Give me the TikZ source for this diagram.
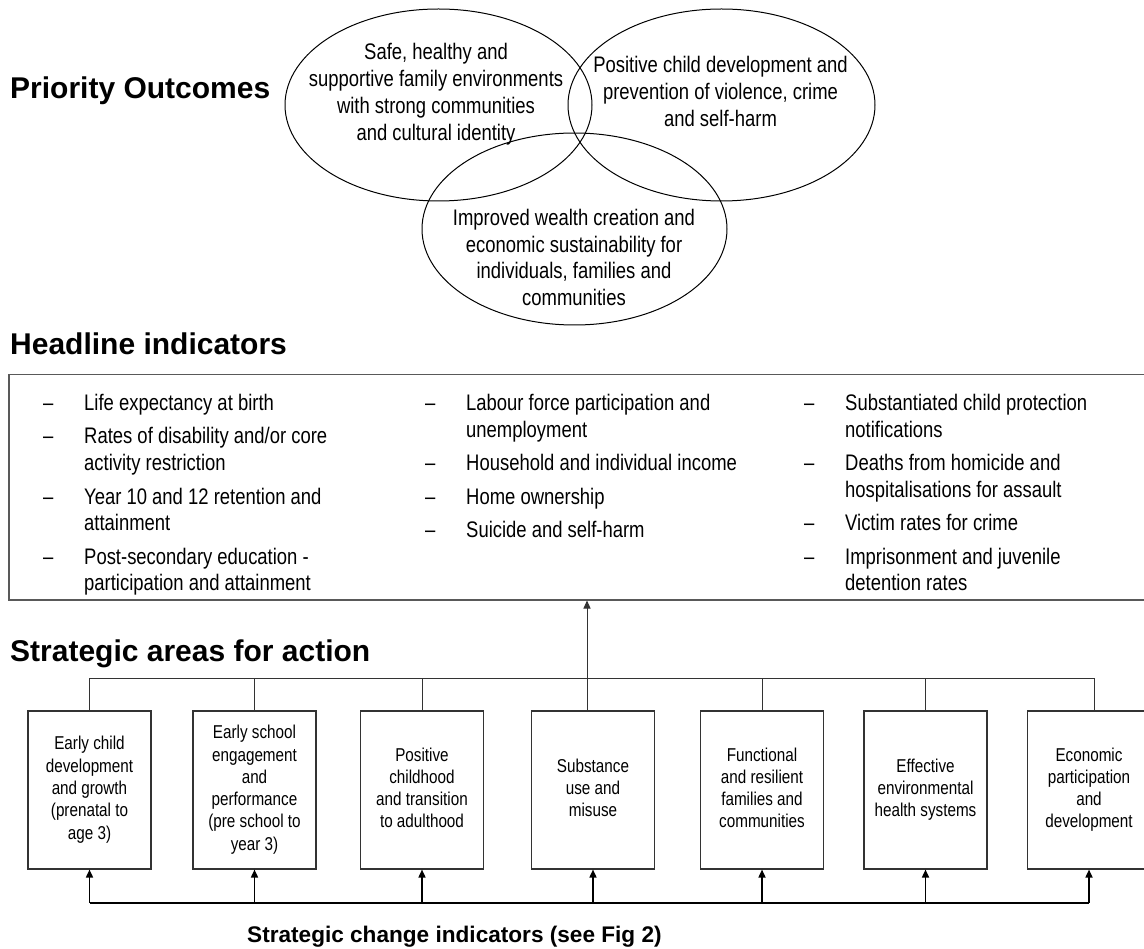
\documentclass[tikz,border=0pt]{standalone}
\usepackage{fontspec}
\setmainfont{Liberation Sans}
\newfontfamily\narrowfont{Liberation Sans}[FakeStretch=0.82]
\usetikzlibrary{shapes.geometric,arrows.meta}
\newcommand\dashcell{\makebox[41pt][l]{–}}
\begin{document}
\begin{tikzpicture}[x=1pt,y=-1pt,
  title/.style={inner sep=0pt, anchor=base west, font=\bfseries\fontsize{30}{36}\selectfont},
  subtitle/.style={inner sep=0pt, anchor=base west, font=\bfseries\fontsize{22.6}{27}\selectfont},
  outcome/.style={draw, ellipse, line width=1pt, inner sep=0pt, minimum width=307pt, minimum height=192pt},
  otext/.style={inner sep=0pt, anchor=base, font=\narrowfont\fontsize{22.5}{26.7}\selectfont},
  item/.style={inner sep=0pt, anchor=base west, font=\narrowfont\fontsize{22.5}{27}\selectfont},
  area/.style={draw=black!80, line width=1.1pt, minimum width=123pt, minimum height=158pt, inner sep=0pt, font=\narrowfont\fontsize{18.6}{22.3}\selectfont},
  hbox/.style={draw=black!65, line width=1.5pt, anchor=north west, minimum width=1142pt, minimum height=225pt, inner sep=0pt},
  bus/.style={draw=black!80, line width=1pt},
  feed/.style={draw=black, line width=1.6pt},
  arr/.style={-{Triangle[length=8pt,width=7pt]}},
]
\path[use as bounding box, fill=white] (0,0) rectangle (1144,949);
\clip (0,0) rectangle (1144,949);

% titles
\node[title] (tpo) at (10,99) {Priority Outcomes};
\node[title] (thi) at (10,355) {Headline indicators};
\node[title] (tsa) at (10,661) {Strategic areas for action};
\node[subtitle] (tsc) at (247,942) {Strategic change indicators (see Fig 2)};

% priority outcomes
\node[outcome] (e1) at (438.5,105) {};
\node[outcome] (e2) at (721.5,105) {};
\node[outcome, minimum width=305pt] (e3) at (574.5,229) {};
\node[otext] (o1) at (436,60) {\begin{tabular}[t]{@{}c@{}}Safe, healthy and\\supportive family environments\\with strong communities\\and cultural identity\end{tabular}};
\node[otext] (o2) at (720.5,73) {\begin{tabular}[t]{@{}c@{}}Positive child development and\\prevention of violence, crime\\and self-harm\end{tabular}};
\node[otext] (o3) at (574,225.5) {\begin{tabular}[t]{@{}c@{}}Improved wealth creation and\\economic sustainability for\\individuals, families and\\communities\end{tabular}};

% headline indicators
\node[hbox] (hb) at (8,374) {};
\node[item] (h11) at (43,411) {\begin{tabular}[t]{@{}l@{}l@{}}\dashcell&Life expectancy at birth\end{tabular}};
\node[item] (h12) at (43,444) {\begin{tabular}[t]{@{}l@{}l@{}}\dashcell&Rates of disability and/or core\\&activity restriction\end{tabular}};
\node[item] (h13) at (43,504) {\begin{tabular}[t]{@{}l@{}l@{}}\dashcell&Year 10 and 12 retention and\\&attainment\end{tabular}};
\node[item] (h14) at (43,564) {\begin{tabular}[t]{@{}l@{}l@{}}\dashcell&Post-secondary education -\\&participation and attainment\end{tabular}};
\node[item] (h21) at (425,411) {\begin{tabular}[t]{@{}l@{}l@{}}\dashcell&Labour force participation and\\&unemployment\end{tabular}};
\node[item] (h22) at (425,471) {\begin{tabular}[t]{@{}l@{}l@{}}\dashcell&Household and individual income\end{tabular}};
\node[item] (h23) at (425,504) {\begin{tabular}[t]{@{}l@{}l@{}}\dashcell&Home ownership\end{tabular}};
\node[item] (h24) at (425,537) {\begin{tabular}[t]{@{}l@{}l@{}}\dashcell&Suicide and self-harm\end{tabular}};
\node[item] (h31) at (804,411) {\begin{tabular}[t]{@{}l@{}l@{}}\dashcell&Substantiated child protection\\&notifications\end{tabular}};
\node[item] (h32) at (804,471) {\begin{tabular}[t]{@{}l@{}l@{}}\dashcell&Deaths from homicide and\\&hospitalisations for assault\end{tabular}};
\node[item] (h33) at (804,531) {\begin{tabular}[t]{@{}l@{}l@{}}\dashcell&Victim rates for crime\end{tabular}};
\node[item] (h34) at (804,564) {\begin{tabular}[t]{@{}l@{}l@{}}\dashcell&Imprisonment and juvenile\\&detention rates\end{tabular}};

% strategic areas
\node[area] (b1) at (89.5,790) {\begin{tabular}{@{}c@{}}Early child\\development\\and growth\\(prenatal to\\age 3)\end{tabular}};
\node[area] (b2) at (254.5,790) {\begin{tabular}{@{}c@{}}Early school\\engagement\\and\\performance\\(pre school to\\year 3)\end{tabular}};
\node[area] (b3) at (422,790) {\begin{tabular}{@{}c@{}}Positive\\childhood\\and transition\\to adulthood\end{tabular}};
\node[area] (b4) at (593,790) {\begin{tabular}{@{}c@{}}Substance\\use and\\misuse\end{tabular}};
\node[area] (b5) at (762,790) {\begin{tabular}{@{}c@{}}Functional\\and resilient\\families and\\communities\end{tabular}};
\node[area] (b6) at (925.5,790) {\begin{tabular}{@{}c@{}}Effective\\environmental\\health systems\end{tabular}};
\node[area] (b7) at (1089,790) {\begin{tabular}{@{}c@{}}Economic\\participation\\and\\development\end{tabular}};

% connectors
\coordinate (bt) at (0,678);
\coordinate (bb) at (0,903);
\draw[bus] (b1.north) -- (b1.north |- bt) -- ([xshift=5pt]b7.north |- bt) -- ([xshift=5pt]b7.north);
\foreach \i in {2,3,5,6} \draw[bus] (b\i.north) -- (b\i.north |- bt);
\draw[bus] ([xshift=-6pt]b4.north) -- ([xshift=-6pt]b4.north |- bt);
\draw[bus,arr] ([xshift=-6pt]b4.north |- bt) -- ([xshift=-6pt]b4.north |- hb.south);
\draw[feed] (b1.south |- bb) -- (b7.south |- bb);
\foreach \i in {1,...,7} \draw[feed,arr] (b\i.south |- bb) -- (b\i.south);
\end{tikzpicture}
\end{document}
